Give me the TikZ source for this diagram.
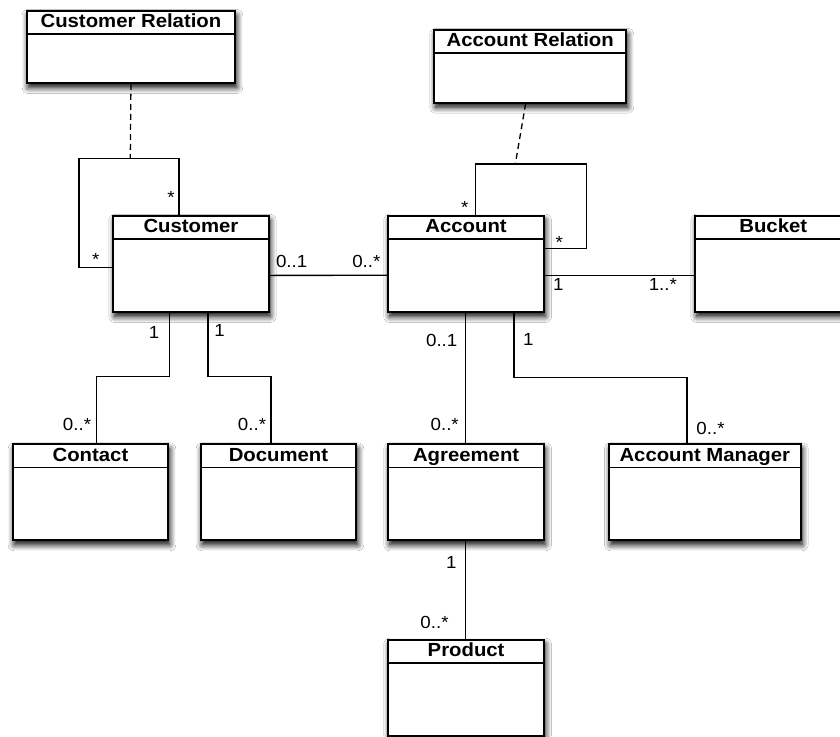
\documentclass[tikz,border=0pt]{standalone}
\usepackage{fontspec}
\setmainfont{Liberation Sans}[FakeStretch=1.07]
\usetikzlibrary{shadows.blur}

\tikzset{
  classbox/.style={draw=black, line width=1.9pt, fill=white, inner sep=0pt,
    anchor=north west,
    blur shadow={shadow xshift=1.5pt, shadow yshift=-4.5pt,
      shadow blur radius=6pt, shadow blur steps=8, shadow opacity=100}},
  classtitle/.style={font=\bfseries\fontsize{19}{21}\selectfont,
    anchor=base, inner sep=0pt},
  headerline/.style={line width=1.6pt},
  assoc/.style={line width=1.3pt},
  relline/.style={line width=1.3pt, dash pattern=on 6pt off 4pt},
  mult/.style={font=\fontsize{17.5}{19}\selectfont, anchor=base, inner sep=0pt},
}

% class box: name, x, y (top left), width, height, title
\newcommand\umlclass[6]{%
  \node[classbox, minimum width=#4pt, minimum height=#5pt] (#1) at (#2,#3) {};
  \draw[headerline] ([yshift=-24pt]#1.north west) -- ([yshift=-24pt]#1.north east);
  \node[classtitle] (#1-title) at ([yshift=-17.9pt]#1.north) {#6};
}

\begin{document}
\begin{tikzpicture}[x=1pt, y=-1pt]
  \clip (0,0) rectangle (840,736);
  \fill[white] (0,0) rectangle (840,736);

  % classes
  \umlclass{crel}{25.7}{10}{208.6}{72}{Customer Relation}
  \umlclass{arel}{433.3}{29}{192}{72.7}{Account Relation}
  \umlclass{cust}{112.3}{215}{155.4}{96}{Customer}
  \umlclass{acc}{387.3}{214.7}{155.7}{96.3}{Account}
  \umlclass{bucket}{694.3}{214.7}{156}{96.3}{Bucket}
  \umlclass{contact}{11.7}{443.3}{155.6}{96}{Contact}
  \umlclass{doc}{199.7}{443.3}{155.6}{96}{Document}
  \umlclass{agr}{387.3}{443.3}{155.7}{96}{Agreement}
  \umlclass{am}{608}{443.3}{191.7}{96}{Account Manager}
  \umlclass{prod}{387.3}{638.7}{155.7}{96.6}{Product}

  % reflexive association on Customer with its association class
  \coordinate (cl) at (130.3,158.7);
  \draw[assoc] ([yshift=-52.7pt]cust.north west) -| (79,158.7)
    -| ([xshift=66.7pt]cust.north west);
  \draw[relline] (crel.south) -- (cl);
  \node[mult] at (171,203.2) {*};
  \node[mult] at (95.7,265.6) {*};

  % reflexive association on Account with its association class
  \coordinate (al) at (515.3,164);
  \draw[assoc] ([xshift=88pt]acc.north west) |- (586.3,164)
    |- ([yshift=-34pt]acc.north east);
  \draw[relline] ([xshift=-4.6pt]arel.south) -- (al);
  \node[mult] at (464.7,213.2) {*};
  \node[mult] at (559.3,248.9) {*};

  % Customer -- Account
  \draw[assoc] ([yshift=-60.4pt]cust.north east) -- ([yshift=-60.6pt]acc.north west);
  \node[mult] at (291.7,267.3) {0..1};
  \node[mult] at (366.3,267) {0..*};

  % Account -- Bucket
  \draw[assoc] ([yshift=-60.6pt]acc.north east) -- ([yshift=-60.6pt]bucket.north west);
  \node[mult] at (558.3,290.7) {1};
  \node[mult] at (662.8,290.5) {1..*};

  % Customer -- Contact
  \draw[assoc] ([xshift=57.4pt]cust.south west) |- (96.7,376.7)
    -- ([xshift=85pt]contact.north west);
  \node[mult] at (154,338.3) {1};
  \node[mult] at (77,430.7) {0..*};

  % Customer -- Document
  \draw[assoc] ([xshift=95.7pt]cust.south west) |- (271,376.7)
    -- ([xshift=71.3pt]doc.north west);
  \node[mult] at (219.5,336.7) {1};
  \node[mult] at (252,430.7) {0..*};

  % Account -- Agreement
  \draw[assoc] ([xshift=78.4pt]acc.south west) -- ([xshift=78.4pt]agr.north west);
  \node[mult] at (441.7,346.7) {0..1};
  \node[mult] at (444.7,430) {0..*};

  % Account -- Account Manager
  \draw[assoc] ([xshift=126.7pt]acc.south west) |- (687,377.3)
    -- ([xshift=79pt]am.north west);
  \node[mult] at (528.3,345) {1};
  \node[mult] at (710.5,434.3) {0..*};

  % Agreement -- Product
  \draw[assoc] ([xshift=78.4pt]agr.south west) -- ([xshift=78.4pt]prod.north west);
  \node[mult] at (451.3,568.3) {1};
  \node[mult] at (434.5,628.3) {0..*};
\end{tikzpicture}
\end{document}
